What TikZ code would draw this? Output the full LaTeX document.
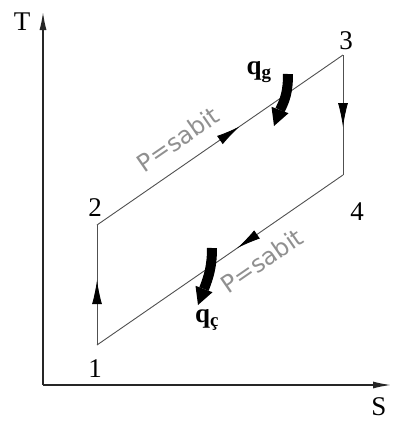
\documentclass[tikz,border=0pt]{standalone}
\usepackage{amsmath}
\usepackage{fontspec}
\setmainfont{Liberation Serif}
\newfontfamily\cadfont{DejaVu Sans}
\usetikzlibrary{arrows.meta, positioning, decorations.markings}
\definecolor{cline}{HTML}{505050}
\definecolor{ctext}{HTML}{909090}

\tikzset{
  axis/.style={line width=1.4pt, black!85, -{Latex[length=18pt,width=7pt]}},
  cycleline/.style={line width=0.9pt, cline},
  midarrow/.style={postaction={decorate, decoration={markings,
      mark=at position #1 with {\arrow[black]{Latex[length=24pt,width=10pt]}}}}},
  heatshaft/.style={line width=10pt, black},
  heathead/.style={fill=black},
  statelbl/.style={font=\fontsize{27}{27}\selectfont, inner sep=0pt},
  presslbl/.style={font=\cadfont\fontsize{24}{24}\selectfont, text=ctext, sloped, inner sep=0pt},
  heatlbl/.style={font=\bfseries\fontsize{27}{27}\selectfont, inner sep=0pt},
}

\begin{document}
\begin{tikzpicture}[x=1pt, y=-1pt]
  \useasboundingbox (0,0) rectangle (392,421);

  % axes
  \coordinate (o) at (43,385);
  \coordinate (tend) at (43,12);
  \coordinate (send) at (391,385);
  \draw[axis] (o) -- (tend);
  \draw[axis] (o) -- (send);
  \node[statelbl] (tlbl) at (22,22) {T};
  \node[statelbl] (slbl) at (379,407) {S};

  % cycle states
  \coordinate (p1) at (97,345);
  \coordinate (p2) at (97,225);
  \coordinate (p3) at (343,55);
  \coordinate (p4) at (343,175);
  \node[statelbl] (l1) at (95,369) {1};
  \node[statelbl] (l2) at (95,208) {2};
  \node[statelbl] (l3) at (346,41) {3};
  \node[statelbl] (l4) at (357,212) {4};

  \draw[cycleline, midarrow=0.54] (p1) -- (p2);
  \draw[cycleline, midarrow=0.58] (p2) -- (p3);
  \draw[cycleline, midarrow=0.6] (p3) -- (p4);
  \draw[cycleline, midarrow=0.43] (p4) -- (p1);

  % isobar labels
  \path (p2) -- node[presslbl, pos=0.386, above=15pt] (pup) {P=sabit} (p3);
  \path (p1) -- node[presslbl, pos=0.614, below=15pt] (pdown) {P=sabit} (p4);

  % heat in
  \coordinate (qgs) at (288,74);
  \coordinate (qgb) at (280,110);
  \draw[heatshaft] (qgs) .. controls (288,92) and (285,100) .. (qgb);
  \fill[heathead] (288.5,113.2) -- (274,126) -- (271.5,106.8) -- cycle;
  \node[heatlbl] (qg) at (259,72) {q$_{\textbf{g}}$};

  % heat out
  \coordinate (qcs) at (212,248);
  \coordinate (qcb) at (204,289);
  \draw[heatshaft] (qcs) .. controls (212,266) and (209,276) .. (qcb);
  \fill[heathead] (212.5,292.2) -- (198,305) -- (195.5,285.8) -- cycle;
  \node[heatlbl] (qc) at (207,320) {q$_{\textbf{ç}}$};
\end{tikzpicture}
\end{document}
